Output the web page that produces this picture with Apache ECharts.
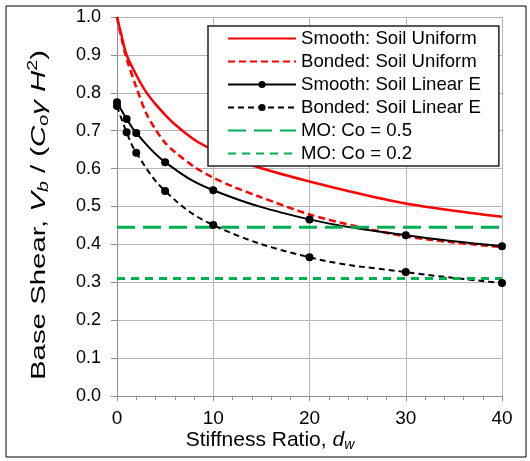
<!DOCTYPE html>
<html>
<head>
<meta charset="UTF-8">
<title>Base Shear vs Stiffness Ratio</title>
<script src="https://cdn.jsdelivr.net/npm/echarts@6/dist/echarts.min.js"></script>
<style>
  html, body { margin: 0; padding: 0; background: #fff; }
  #chart { width: 530px; height: 461px; }
</style>
</head>
<body>
<div id="chart"></div>
<script>
  // continuous curves (uniform soil)
  var xCurve = [0, 0.5, 1, 2, 3, 4, 5, 6, 8, 10, 12, 15, 20, 25, 30, 35, 40];
  var smoothUniform = [1.0, 0.948, 0.9, 0.847, 0.803, 0.77, 0.742, 0.717, 0.677, 0.649, 0.628, 0.601, 0.566, 0.535, 0.508, 0.489, 0.473];
  var bondedUniform = [1.0, 0.94, 0.89, 0.815, 0.748, 0.703, 0.668, 0.644, 0.605, 0.576, 0.553, 0.524, 0.479, 0.447, 0.421, 0.405, 0.393];

  // computed points (linear E soil)
  var xPoints = [0, 1, 2, 5, 10, 20, 30, 40];
  var smoothLinearE = [0.775, 0.731, 0.694, 0.617, 0.543, 0.466, 0.424, 0.395];
  var bondedLinearE = [0.765, 0.696, 0.642, 0.541, 0.451, 0.366, 0.327, 0.298];

  // Mononobe-Okabe levels
  var moCo05 = 0.445;
  var moCo02 = 0.31;
  var xRange = [0, 40];

  function pairs(xs, ys) {
    return xs.map(function (x, i) { return [x, ys[i]]; });
  }

  var font = 'Liberation Sans, Arial, sans-serif';
  var nameRich = {
    i: { fontSize: 21, fontStyle: 'italic', fontFamily: font, fill: '#000', color: '#000' },
    sub: { fontSize: 14, fontStyle: 'italic', fontFamily: font, fill: '#000', color: '#000', padding: [11, 0, 0, 0] },
    sup: { fontSize: 14, fontFamily: font, fill: '#000', color: '#000', padding: [0, 0, 11, 0] }
  };

  var chart = echarts.init(document.getElementById('chart'), null, { renderer: 'canvas' });

  var option = {
    backgroundColor: '#fff',
    animation: false,
    textStyle: { fontFamily: font },
    graphic: [
      {
        type: 'rect',
        shape: { x: 6, y: 6, width: 520, height: 451 },
        style: { fill: null, stroke: '#000', lineWidth: 1 },
        z: 0
      },
      {
        // y axis title, stretched along its length like the original
        type: 'text',
        x: 39, y: 215,
        rotation: Math.PI / 2,
        scaleX: 1.4, scaleY: 1,
        style: {
          text: 'Base Shear, {i|V}{sub|b} / ({i|C}{sub|o}{i|γ H}{sup|2})',
          fontSize: 21, fontFamily: font, fill: '#000',
          align: 'center', verticalAlign: 'middle',
          rich: nameRich
        }
      },
      {
        type: 'text',
        x: 270, y: 440,
        style: {
          text: 'Stiffness Ratio, {i|d}{sub|w}',
          fontSize: 21, fontFamily: font, fill: '#000',
          align: 'center', verticalAlign: 'middle',
          rich: nameRich
        }
      }
    ],
    grid: { left: 117, right: 28, top: 17, bottom: 65 },
    legend: {
      left: 208, top: 26,
      orient: 'vertical',
      backgroundColor: '#fff',
      borderColor: '#222',
      borderWidth: 1.5,
      borderRadius: 0,
      padding: [3, 18, 3, 19],
      itemWidth: 68,
      itemHeight: 9,
      itemGap: 4,
      textStyle: { fontSize: 18.6, color: '#000', fontFamily: font, lineHeight: 18 },
      data: [
        { name: 'Smooth: Soil Uniform', itemStyle: { opacity: 0 } },
        { name: 'Bonded: Soil Uniform', itemStyle: { opacity: 0 } },
        { name: 'Smooth: Soil Linear E' },
        { name: 'Bonded: Soil Linear E' },
        { name: 'MO: Co = 0.5', itemStyle: { opacity: 0 } },
        { name: 'MO: Co = 0.2', itemStyle: { opacity: 0 } }
      ]
    },
    xAxis: {
      type: 'value',
      min: 0, max: 40, interval: 10,
      axisLine: { lineStyle: { color: '#909090', width: 1 } },
      axisTick: { show: true, length: 5, lineStyle: { color: '#909090' } },
      minorTick: { show: true, splitNumber: 5, length: 4, lineStyle: { color: '#909090' } },
      axisLabel: { fontSize: 19, color: '#000', margin: 13, fontFamily: font },
      splitLine: { show: true, lineStyle: { color: '#b5b5b5', width: 1 } }
    },
    yAxis: {
      type: 'value',
      min: 0, max: 1, interval: 0.1,
      axisLine: { show: true, lineStyle: { color: '#909090', width: 1 } },
      axisTick: { show: true, length: 6, lineStyle: { color: '#909090' } },
      axisLabel: {
        fontSize: 18, color: '#000', margin: 16, fontFamily: font,
        formatter: function (v) { return v.toFixed(1); }
      },
      splitLine: { show: true, lineStyle: { color: '#b5b5b5', width: 1 } }
    },
    series: [
      {
        name: 'Smooth: Soil Uniform', type: 'line',
        data: pairs(xCurve, smoothUniform),
        smooth: 0.3, symbol: 'none',
        lineStyle: { color: '#ff0000', width: 2.5 },
        itemStyle: { color: '#ff0000' }
      },
      {
        name: 'Bonded: Soil Uniform', type: 'line',
        data: pairs(xCurve, bondedUniform),
        smooth: 0.3, symbol: 'none',
        lineStyle: { color: '#ff0000', width: 2.5, type: [7, 4] },
        itemStyle: { color: '#ff0000' }
      },
      {
        name: 'Smooth: Soil Linear E', type: 'line',
        data: pairs(xPoints, smoothLinearE),
        smooth: 0.4,
        symbol: 'circle', symbolSize: 8,
        lineStyle: { color: '#000', width: 2 },
        itemStyle: { color: '#000' }
      },
      {
        name: 'Bonded: Soil Linear E', type: 'line',
        data: pairs(xPoints, bondedLinearE),
        smooth: 0.4,
        symbol: 'circle', symbolSize: 8,
        lineStyle: { color: '#000', width: 2, type: [6, 4] },
        itemStyle: { color: '#000' }
      },
      {
        name: 'MO: Co = 0.5', type: 'line',
        data: xRange.map(function (x) { return [x, moCo05]; }),
        symbol: 'none',
        lineStyle: { color: '#00b050', width: 3, type: [18, 8] },
        itemStyle: { color: '#00b050' }
      },
      {
        name: 'MO: Co = 0.2', type: 'line',
        data: xRange.map(function (x) { return [x, moCo02]; }),
        symbol: 'none',
        lineStyle: { color: '#00b050', width: 3, type: [8, 6] },
        itemStyle: { color: '#00b050' }
      }
    ]
  };

  chart.setOption(option);
</script>
</body>
</html>
